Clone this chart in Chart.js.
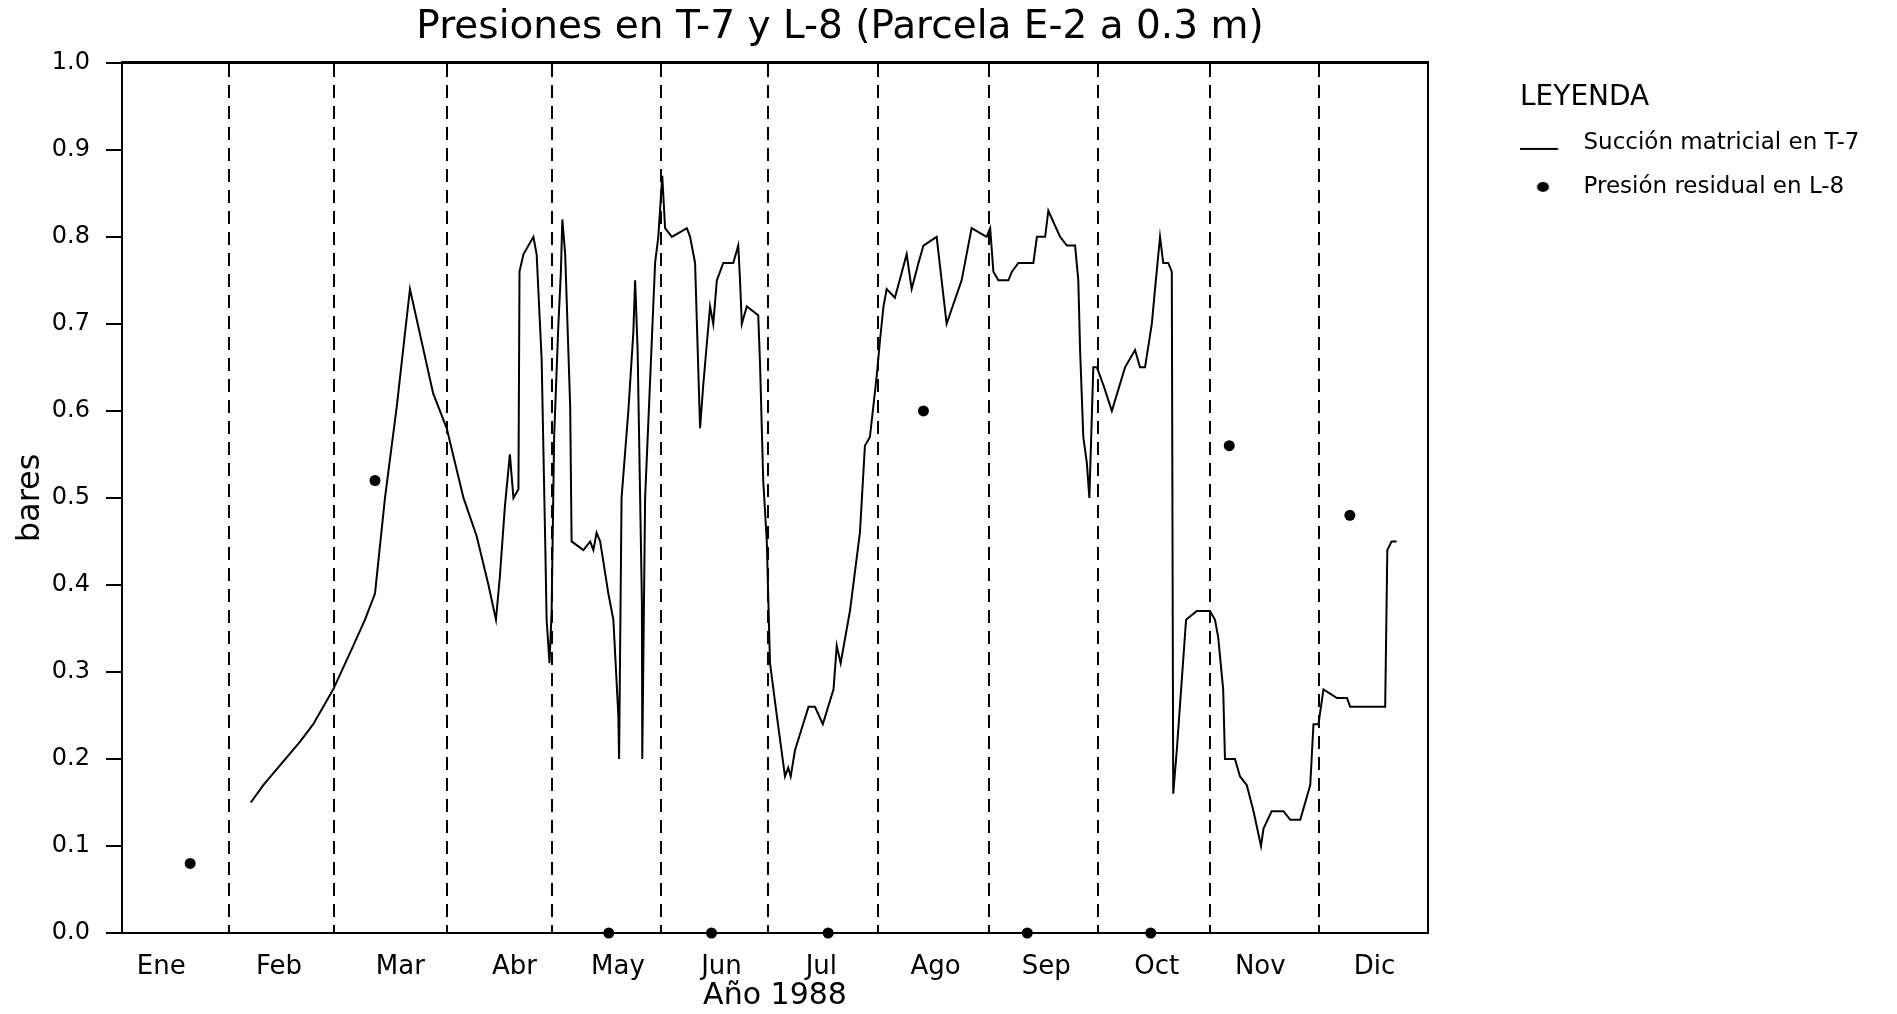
<!DOCTYPE html>
<html>
<head>
<meta charset="utf-8">
<script src="https://cdn.jsdelivr.net/npm/chart.js@4/dist/chart.umd.min.js"></script>
<style>
html, body { margin: 0; padding: 0; background: #ffffff; }
#wrap { width: 1897px; height: 1014px; position: relative; }
</style>
</head>
<body>
<div id="wrap"><canvas id="c"></canvas></div>
<script>
// ---------------- data ----------------
const chartTitle = 'Presiones en T-7 y L-8 (Parcela E-2 a 0.3 m)';
const xAxisTitle = 'Año 1988';
const yAxisTitle = 'bares';
const legendTitle = 'LEYENDA';
const seriesNames = ['Succión matricial en T-7', 'Presión residual en L-8'];

const monthLabels = ['Ene', 'Feb', 'Mar', 'Abr', 'May', 'Jun', 'Jul', 'Ago', 'Sep', 'Oct', 'Nov', 'Dic'];
const monthLabelDays = [11, 44, 78, 110, 139, 168, 196, 228, 259, 290, 319, 351];
const monthBoundaryDays = [30, 59.5, 91, 120.5, 151, 181, 212, 243, 273.5, 305, 335.5];
const yTickValues = [0, 0.1, 0.2, 0.3, 0.4, 0.5, 0.6, 0.7, 0.8, 0.9, 1.0];

// Succión matricial en T-7 (day of year, bares)
const suctionDays = [
  36.1, 39.6, 49.9, 53.6, 59.2, 64.8, 68.1, 70.9, 73.7, 77.0, 79.6, 80.7, 87.2, 91.0, 95.7, 99.4,
  102.7, 104.8, 105.9, 107.3, 108.7, 109.7, 111.1, 111.4, 112.5, 115.3, 116.2, 117.6, 118.6, 119.0,
  119.8, 120.4, 121.1, 122.3, 123.0, 123.4, 124.2, 125.6, 126.0, 129.3, 131.2, 132.1, 133.0, 134.0,
  136.3, 137.7, 139.1, 139.3, 140.0, 141.9, 143.3, 143.8, 144.5, 145.7, 145.8, 146.6, 149.4, 150.3,
  151.4, 152.2, 154.1, 158.3, 159.2, 160.6, 162.0, 162.9, 164.8, 165.7, 166.7, 168.5, 171.3, 172.7,
  173.2, 173.7, 175.1, 178.3, 178.8, 179.7, 180.7, 181.6, 183.5, 185.8, 186.7, 187.4, 188.6, 192.4,
  194.2, 196.4, 199.4, 200.3, 201.4, 204.0, 206.8, 208.2, 209.6, 211.5, 212.4, 213.4, 214.3, 216.6,
  219.9, 221.3, 223.2, 224.6, 228.3, 231.1, 235.3, 238.1, 242.3, 243.3, 244.2, 245.6, 248.4, 249.4,
  251.2, 255.4, 256.4, 258.7, 259.6, 262.9, 264.8, 267.1, 268.0, 268.5, 269.4, 270.4, 271.1, 272.2,
  273.2, 275.0, 277.4, 281.1, 283.9, 285.3, 286.7, 288.6, 289.5, 290.9, 291.8, 293.2, 294.2, 294.6,
  295.6, 298.2, 301.2, 304.9, 306.3, 307.2, 308.6, 309.1, 311.9, 313.3, 315.2, 317.1, 319.2, 319.9,
  322.2, 325.5, 327.4, 330.2, 333.0, 333.9, 335.3, 336.7, 340.5, 343.3, 344.2, 354.0, 354.6, 355.8,
  357.2
];
const suctionValues = [
  0.15, 0.17, 0.22, 0.24, 0.28, 0.33, 0.36, 0.39, 0.50, 0.605, 0.70, 0.74, 0.62, 0.58, 0.50, 0.456,
  0.40, 0.36, 0.41, 0.49, 0.55, 0.50, 0.51, 0.76, 0.78, 0.80, 0.78, 0.66, 0.45, 0.36,
  0.31, 0.37, 0.57, 0.70, 0.76, 0.82, 0.78, 0.605, 0.45, 0.44, 0.45, 0.44, 0.46, 0.45,
  0.39, 0.36, 0.25, 0.20, 0.50, 0.60, 0.69, 0.75, 0.67, 0.38, 0.20, 0.50, 0.77, 0.80,
  0.87, 0.81, 0.80, 0.81, 0.80, 0.77, 0.58, 0.63, 0.72, 0.70, 0.75, 0.77, 0.77, 0.79,
  0.75, 0.70, 0.72, 0.71, 0.655, 0.52, 0.45, 0.31, 0.25, 0.18, 0.19, 0.18, 0.21, 0.26,
  0.26, 0.24, 0.28, 0.33, 0.31, 0.37, 0.46, 0.56, 0.57, 0.64, 0.68, 0.72, 0.74, 0.73,
  0.78, 0.74, 0.77, 0.79, 0.80, 0.70, 0.75, 0.81, 0.80, 0.81, 0.76, 0.75, 0.75, 0.76,
  0.77, 0.77, 0.80, 0.80, 0.83, 0.80, 0.79, 0.79, 0.75, 0.67, 0.57, 0.54, 0.50, 0.65,
  0.65, 0.63, 0.60, 0.65, 0.67, 0.65, 0.65, 0.70, 0.74, 0.80, 0.77, 0.77, 0.76, 0.16,
  0.21, 0.36, 0.37, 0.37, 0.36, 0.34, 0.28, 0.20, 0.20, 0.18, 0.17, 0.14, 0.10, 0.12,
  0.14, 0.14, 0.13, 0.13, 0.17, 0.24, 0.24, 0.28, 0.27, 0.27, 0.26, 0.26, 0.44, 0.45,
  0.45
];

// Presión residual en L-8 (day of year, bares)
const residualDays = [19.1, 70.9, 136.4, 165.2, 197.9, 224.6, 253.7, 288.3, 310.3, 344.1];
const residualValues = [0.08, 0.52, 0, 0, 0, 0.60, 0, 0, 0.56, 0.48];

// ---------------- styling / layout ----------------
const FONT = "'DejaVu Sans', sans-serif";
Chart.defaults.font.family = FONT;
Chart.defaults.color = '#000';

const legendFontSize = 23;
const legendPad = 21;
const legendBoxW = 31;
const legendLeftTarget = 1520;

// measure the longest legend text so the legend starts where the reference legend starts
const mctx = document.createElement('canvas').getContext('2d');
mctx.font = legendFontSize + 'px ' + FONT;
const legendTextW = Math.max(...seriesNames.map(s => mctx.measureText(s).width));
const legendWidth = legendPad + legendBoxW + legendFontSize / 2 + legendTextW + 10;
const rightPad = Math.max(0, 1897 - legendLeftTarget - legendWidth);

// legend symbols (line sample and dot)
function makeLineSymbol() {
  const c = document.createElement('canvas');
  c.width = 90; c.height = 24;
  const g = c.getContext('2d');
  g.strokeStyle = '#000'; g.lineWidth = 2;
  g.beginPath(); g.moveTo(4.5, 18); g.lineTo(46.5, 18); g.stroke();
  return c;
}
function makeDotSymbol() {
  const c = document.createElement('canvas');
  c.width = 44; c.height = 14;
  const g = c.getContext('2d');
  g.fillStyle = '#000';
  g.beginPath(); g.ellipse(8.5, 7, 6, 5, 0, 0, Math.PI * 2); g.fill();
  return c;
}
const legendSymbols = [makeLineSymbol(), makeDotSymbol()];

const titleShift = {
  id: 'titleShift',
  afterLayout(chart) {
    const t = chart.titleBlock;
    if (t) { t.left = 840 - 550; t.right = 840 + 550; }
  }
};

new Chart(document.getElementById('c'), {
  type: 'line',
  data: {
    datasets: [
      {
        label: seriesNames[0],
        data: suctionDays.map((d, i) => ({ x: d, y: suctionValues[i] })),
        borderColor: '#000',
        backgroundColor: '#000',
        borderWidth: 2,
        pointRadius: 0,
        tension: 0,
        fill: false
      },
      {
        label: seriesNames[1],
        data: residualDays.map((d, i) => ({ x: d, y: residualValues[i] })),
        showLine: false,
        pointRadius: 5.5,
        pointHoverRadius: 5.5,
        pointBackgroundColor: '#000',
        pointBorderColor: '#000',
        pointBorderWidth: 0,
        clip: false
      }
    ]
  },
  options: {
    responsive: true,
    maintainAspectRatio: false,
    animation: false,
    events: [],
    layout: { padding: { left: 0, right: rightPad, top: 0, bottom: 0 } },
    scales: {
      x: {
        type: 'linear', position: 'bottom', min: 0, max: 366,
        afterBuildTicks: s => { s.ticks = monthLabelDays.map(v => ({ value: v })); },
        afterFit: s => { s.height = 81; },
        ticks: {
          autoSkip: false, maxRotation: 0, minRotation: 0, padding: 11,
          font: { size: 26 }, color: '#000',
          callback: (v, i) => monthLabels[i]
        },
        grid: { display: false },
        border: { display: true, color: '#000', width: 2 },
        title: { display: true, text: xAxisTitle, font: { size: 30 }, color: '#000', padding: { top: 0, bottom: 0 } }
      },
      x2: {
        type: 'linear', position: 'top', min: 0, max: 366,
        afterBuildTicks: s => { s.ticks = monthBoundaryDays.map(v => ({ value: v })); },
        afterFit: s => { s.height = 0; },
        ticks: { display: false },
        grid: { display: true, drawOnChartArea: true, drawTicks: false, color: '#000', lineWidth: 2 },
        border: { display: true, color: '#000', width: 3, dash: [13, 8] }
      },
      y: {
        type: 'linear', position: 'left', min: 0, max: 1,
        afterBuildTicks: s => { s.ticks = yTickValues.map(v => ({ value: v })); },
        afterFit: s => { s.width = 122; },
        ticks: { padding: 16, font: { size: 24 }, color: '#000', callback: v => Number(v).toFixed(1) },
        grid: { display: true, drawOnChartArea: false, drawTicks: true, tickLength: 16, color: '#000', lineWidth: 2 },
        border: { display: true, color: '#000', width: 2 },
        title: { display: true, text: yAxisTitle, font: { size: 32 }, color: '#000', padding: { top: 11, bottom: 0 } }
      },
      y2: {
        type: 'linear', position: 'right', min: 0, max: 1,
        afterFit: s => { s.width = 92; },
        ticks: { display: false },
        grid: { display: false, drawTicks: false },
        border: { display: true, color: '#000', width: 2 }
      }
    },
    plugins: {
      title: {
        display: true, text: chartTitle, color: '#000',
        font: { size: 39, weight: 'normal' },
        padding: { top: 4, bottom: 12 }
      },
      legend: {
        display: true, position: 'right', align: 'start', maxWidth: 700,
        title: {
          display: true, text: legendTitle, position: 'start', color: '#000',
          font: { size: 28, lineHeight: 0.8 }, padding: { top: 84, bottom: 4 }
        },
        labels: {
          usePointStyle: true, pointStyleWidth: legendBoxW, padding: legendPad,
          color: '#000', font: { size: legendFontSize },
          generateLabels: chart => {
            const items = Chart.defaults.plugins.legend.labels.generateLabels(chart);
            items.forEach((it, i) => { it.pointStyle = legendSymbols[i]; });
            return items;
          }
        }
      },
      tooltip: { enabled: false }
    }
  },
  plugins: [titleShift]
});
</script>
</body>
</html>
